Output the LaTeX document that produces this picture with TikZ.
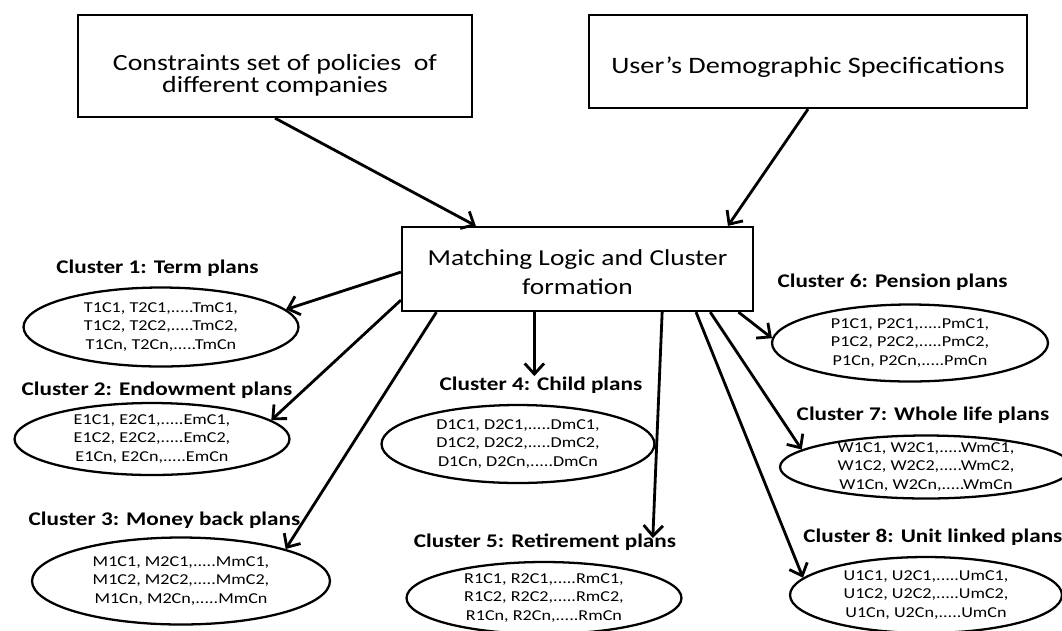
\documentclass[tikz,border=0pt]{standalone}
\usepackage{fontspec}
\setmainfont{Carlito}[FakeStretch=1.2]
\usetikzlibrary{shapes.geometric,arrows.meta,calc}

\newcommand{\planlist}[1]{#11C1, #12C1,.....#1mC1,\\#11C2, #12C2,.....#1mC2,\\#11Cn, #12Cn,.....#1mCn}

\begin{document}
\begin{tikzpicture}[x=0.02cm, y=-0.02cm,
        box/.style={rectangle, draw, line width=1.3pt, align=center, inner sep=0pt},
        plan/.style={ellipse, draw, line width=1.3pt, align=center, inner xsep=0pt, inner ysep=-3pt, font=\fontsize{8.6}{10.4}\selectfont},
        title/.style={inner sep=0pt, anchor=base, font=\fontsize{11}{13}\selectfont\bfseries},
        arr/.style={line width=1.6pt, -{Straight Barb[length=6pt,width=11pt]}}
    ]
    \useasboundingbox (0,0) rectangle (1062,630);
    \clip (0,0) rectangle (1062,630);

    % inputs and matching
    \node[box, minimum width=7.88cm, minimum height=2.04cm, font=\fontsize{13.2}{12.3}\selectfont] (constr) at (275,66) {\rule{0pt}{20pt}Constraints set of policies\ \ of\\different companies};
    \node[box, minimum width=8.76cm, minimum height=1.86cm, font=\fontsize{13.4}{16}\selectfont] (user) at (808,61.5) {\rule{0pt}{15.5pt}User’s Demographic Specifications};
    \node[box, minimum width=7.02cm, minimum height=1.68cm, font=\fontsize{13}{16.4}\selectfont] (match) at (577.5,269) {\rule{0pt}{13pt}Matching Logic and Cluster\\formation};

    % clusters
    \node[title] (l1) at (157.5,273) {Cluster 1: Term plans};
    \node[plan, minimum width=5.5cm, minimum height=1.58cm] (c1) at (161,327) {\planlist{T}};
    \node[title] (l2) at (157,395) {Cluster 2: Endowment plans};
    \node[plan, minimum width=5.5cm, minimum height=1.44cm] (c2) at (152,439) {\planlist{E}};
    \node[title] (l3) at (164.5,525) {Cluster 3: Money back plans};
    \node[plan, minimum width=5.96cm, minimum height=1.74cm] (c3) at (181,581) {\planlist{M}};
    \node[title] (l4) at (541,390) {Cluster 4: Child plans};
    \node[plan, minimum width=5.46cm, minimum height=1.56cm] (c4) at (518,444) {\planlist{D}};
    \node[title] (l5) at (545,547) {Cluster 5: Retirement plans};
    \node[plan, minimum width=5.5cm, minimum height=1.44cm] (c5) at (544,598) {\planlist{R}};
    \node[title] (l6) at (892.5,287) {Cluster 6: Pension plans};
    \node[plan, minimum width=5.52cm, minimum height=1.54cm] (c6) at (910,343) {\planlist{P}};
    \node[title] (l7) at (923,420) {Cluster 7: Whole life plans};
    \node[plan, minimum width=5.84cm, minimum height=1.26cm] (c7) at (926,467) {\planlist{W}};
    \node[title, anchor=base west] (l8) at (803,542) {Cluster 8: Unit linked plans};
    \node[plan, minimum width=5.44cm, minimum height=1.52cm] (c8) at (926,595) {\planlist{U}};

    % connectors
    \draw[arr] (constr.south) -- (match.157);
    \draw[arr] (user.south) -- (match.16);
    \draw[arr] (match.181) -- (c1.8);
    \draw[arr] (match.190) -- (c2.9);
    \draw[arr] (match.197) -- (c3.17);
    \draw[arr] (match.225) -- (match.225 |- l4.north);
    \draw[arr] (match.333) -- ($(l5.north east)!0.09!(l5.north west) + (0,5)$);
    \draw[arr] (match.345) -- (c6.178);
    \draw[arr] (match.342) -- (c7.172);
    \draw[arr] (match.340) -- (c8.172);
\end{tikzpicture}
\end{document}
